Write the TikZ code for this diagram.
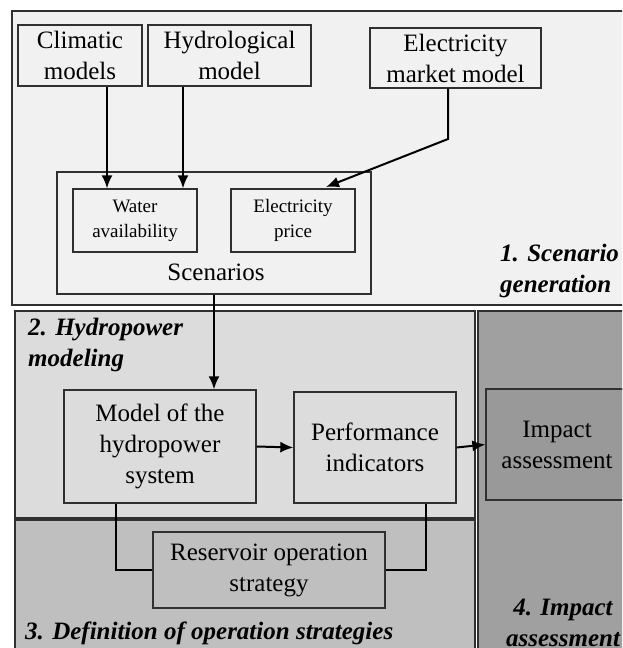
\documentclass[tikz,border=0pt]{standalone}
\usepackage{fontspec}
\setmainfont{Liberation Serif}
\usetikzlibrary{arrows.meta,calc}
\definecolor{regA}{HTML}{F1F1F1}
\definecolor{regB}{HTML}{DCDCDC}
\definecolor{regC}{HTML}{BFBFBF}
\definecolor{regD}{HTML}{A0A0A0}
\definecolor{impbox}{HTML}{999999}
\definecolor{edge}{HTML}{303030}
\tikzset{
  region/.style={draw=edge, line width=1.3pt},
  box/.style={draw=edge, line width=1.3pt, align=center, inner sep=0pt,
    font=\fontsize{25}{31}\selectfont},
  smallbox/.style={box, font=\fontsize{19}{25}\selectfont},
  plain/.style={align=center, inner sep=0pt, font=\fontsize{25}{31}\selectfont},
  seclabel/.style={align=left, inner sep=0pt,
    font=\fontsize{25}{31}\selectfont\bfseries\itshape},
  arr/.style={line width=2pt, black, -{Latex[length=13pt,width=11pt]}},
  link/.style={line width=2pt, black},
}
\begin{document}
\begin{tikzpicture}[x=1pt,y=-1pt]
\useasboundingbox (0,0) rectangle (622,648);
\clip (0,0) rectangle (622,648);
% regions
\path[region, fill=regA] (12,11) rectangle (650,305);
\path[region, fill=regB] (15,311) rectangle (475,518);
\path[region, fill=regC] (15,520) rectangle (475,670);
\path[region, fill=regD] (478,311) rectangle (650,670);
% scenario generation
\node[box, minimum width=124, minimum height=61] (clim) at (80,55.5) {Climatic\\models};
\node[box, minimum width=163, minimum height=61] (hydro) at (229.5,55.5) {Hydrological\\model};
\node[box, minimum width=171, minimum height=60] (emm) at (455.5,58) {Electricity\\market model};
\node[box, minimum width=314, minimum height=122] (scen) at (214,233) {};
\node[plain] (scentxt) at (216,272) {Scenarios};
\node[smallbox, minimum width=124, minimum height=63] (water) at (135,220.5) {Water\\availability};
\node[smallbox, minimum width=124, minimum height=63] (price) at (293,220.5) {Electricity\\price};
\node[seclabel, anchor=west] (lab1) at (500,271) {1. Scenario\\generation};
% hydropower modeling
\node[seclabel, anchor=west] (lab2) at (28,345) {2. Hydropower\\modeling};
\node[box, fill=regB, minimum width=192, minimum height=113] (model) at (160,446.5) {Model of the\\hydropower\\system};
\node[box, fill=regB, minimum width=162, minimum height=111] (perf) at (375,447.5) {Performance\\indicators};
\node[box, fill=impbox, minimum width=142, minimum height=111] (impact) at (557,444.5) {Impact\\assessment};
% operation strategies
\node[box, fill=regC, minimum width=232, minimum height=76] (res) at (269,570) {Reservoir operation\\strategy};
\node[seclabel, anchor=west] (lab3) at (25,633) {3. Definition of operation strategies};
\node[seclabel, align=center] (lab4) at (563,623) {4. Impact\\assessment};
% connectors
\coordinate (cx1) at (107,0);
\coordinate (cx2) at (183,0);
\coordinate (cx3) at (448,0);
\coordinate (cx4) at (214,0);
\coordinate (cx5) at (116,0);
\coordinate (cx6) at (426,0);
\coordinate (bend) at (448,139);
\coordinate (tip) at (326,187);
\draw[arr] (clim.south -| cx1) -- (water.north -| cx1);
\draw[arr] (hydro.south -| cx2) -- (water.north -| cx2);
\draw[arr] (emm.south -| cx3) -- (bend) -- (tip);
\draw[arr] (scen.south -| cx4) -- (model.north -| cx4);
\draw[arr] (model.east) -- (perf.west);
\draw[arr] (perf.east) -- (impact.west);
\draw[link] (model.south -| cx5) |- (res.west);
\draw[link] (perf.south -| cx6) |- (res.east);
\end{tikzpicture}
\end{document}
